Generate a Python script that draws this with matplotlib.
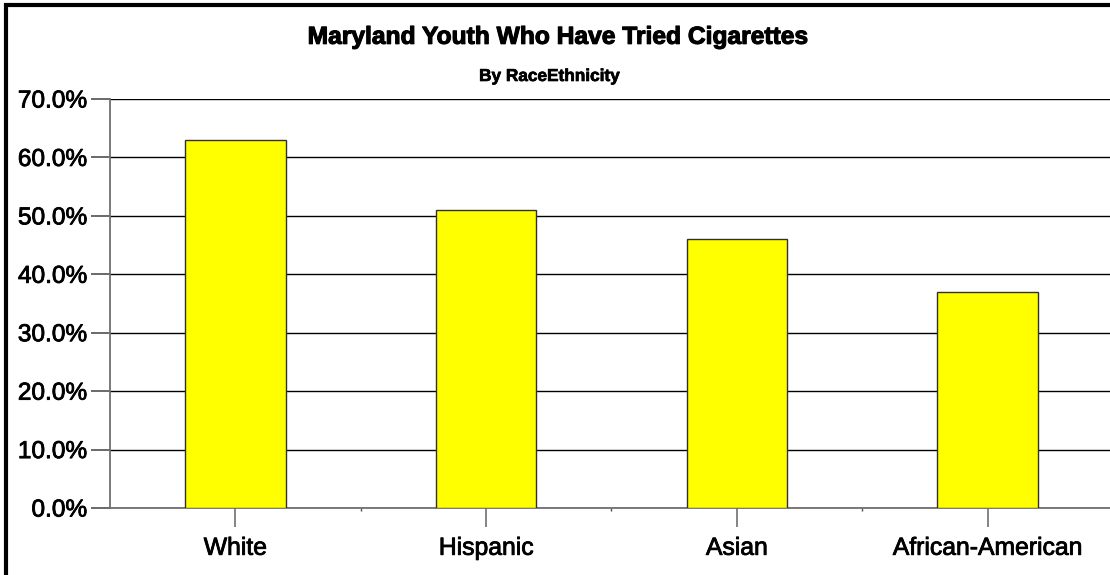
import matplotlib.pyplot as plt
import matplotlib.patheffects as pe
from matplotlib.patches import Rectangle
from matplotlib.ticker import FixedLocator, FuncFormatter

plt.rcParams['font.family'] = ['Liberation Sans', 'DejaVu Sans']

groupes = ["White", "Hispanic", "Asian", "African-American"]
pourcentages = [63.0, 51.0, 46.0, 37.0]
graduations = [0, 10, 20, 30, 40, 50, 60, 70]

fig = plt.figure(figsize=(11.1, 5.75), dpi=100)
ax = fig.add_axes([0.0991, 0.1165, 0.9036, 0.7113])

x = list(range(len(groupes)))
ax.bar(x, pourcentages, width=0.4, color="#FFFF00", edgecolor="#303030",
       linewidth=1.0, zorder=3)

ax.set_xlim(-0.5, len(groupes) - 0.5)
ax.set_ylim(0, 70)
ax.set_yticks(graduations)
ax.yaxis.set_major_formatter(FuncFormatter(lambda v, p: "%.1f%%" % v))
ax.set_xticks(x)
ax.set_xticklabels(groupes)
ax.xaxis.set_minor_locator(FixedLocator([i + 0.5 for i in range(len(groupes) - 1)]))

ax.grid(axis="y", color="black", linewidth=1.0, zorder=0)
for s in ["top", "right"]:
    ax.spines[s].set_visible(False)
for s in ["left", "bottom"]:
    ax.spines[s].set_color("#707070")
    ax.spines[s].set_linewidth(1.3)

ax.tick_params(axis="y", length=14, width=1.2, color="#505050", pad=2.5,
               labelsize=17.6)
ax.tick_params(axis="x", which="major", length=14, width=1.2, color="#707070",
               pad=6, labelsize=17.8)
ax.tick_params(axis="x", which="minor", length=2, width=1.0, color="#505050")

# texte un peu plus gras, comme dans l'original
epais = [pe.withStroke(linewidth=0.6, foreground="black")]
for lab in ax.get_xticklabels() + ax.get_yticklabels():
    lab.set_path_effects(epais)

fig.text(0.503, 0.936, "Maryland Youth Who Have Tried Cigarettes",
         ha="center", va="center", fontsize=17.7, fontweight="bold",
         path_effects=[pe.withStroke(linewidth=0.8, foreground="black")])
fig.text(0.495, 0.867, "By RaceEthnicity", ha="center", va="center",
         fontsize=12.4, fontweight="bold",
         path_effects=[pe.withStroke(linewidth=0.5, foreground="black")])

# cadre noir autour du graphique
fig.patches.append(Rectangle((6 / 1110, -0.1), 1.2, 1 - 4.5 / 575 + 0.1,
                             transform=fig.transFigure, fill=False,
                             edgecolor="black", linewidth=3))

fig.savefig("out.png", dpi=100)
